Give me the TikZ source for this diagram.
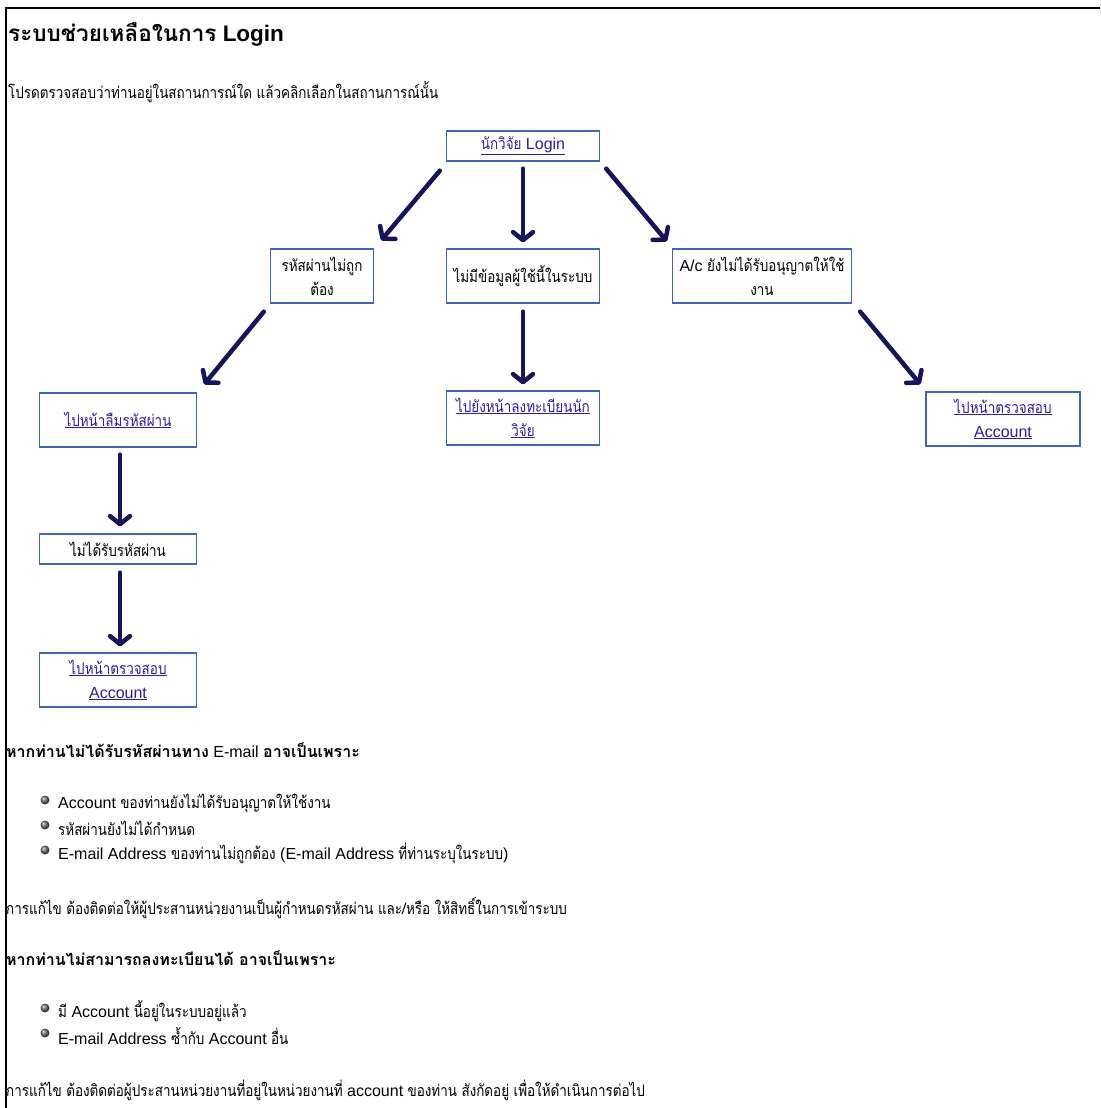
\documentclass[tikz,border=0pt]{standalone}
\usepackage{fontspec}
\setmainfont{Liberation Sans}
\newfontfamily\thai[Script=Thai,FakeStretch=0.84,BoldFeatures={FakeStretch=1.0}]{Loma}
\usetikzlibrary{arrows.meta}
\definecolor{boxblue}{RGB}{70,100,180}
\definecolor{linkblue}{RGB}{45,30,160}
\definecolor{arrownavy}{RGB}{22,20,90}
\newcommand{\lnk}[1]{\underline{#1}}

\begin{document}
\begin{tikzpicture}[x=1pt,y=-1pt,
  box/.style={draw=boxblue, line width=1.3pt, align=center, inner sep=1pt,
    minimum height=30pt, font=\fontsize{16}{24}\selectfont},
  tall/.style={minimum height=54pt},
  link/.style={text=linkblue},
  flow/.style={draw=arrownavy, line width=4.5pt, line cap=round,
    -{Straight Barb[length=8pt,width=20pt,round]}},
  txt/.style={anchor=west, inner sep=0pt, font=\fontsize{16}{20}\selectfont}]
\useasboundingbox (0,0) rectangle (1100,1108);

% page frame
\draw[line width=2pt] (1100,8) -- (6,8) -- (6,1108);

% heading
\node[txt, font=\fontsize{22.5}{28}\selectfont\bfseries] (title) at (8,34) {{\thai ระบบช่วยเหลือในการ} Login};
\node[txt] (intro) at (8,92) {\thai โปรดตรวจสอบว่าท่านอยู่ในสถานการณ์ใด แล้วคลิกเลือกในสถานการณ์นั้น};

% flow boxes
\node[box, link, minimum width=153pt] (login) at (523,146) {\lnk{{\thai นักวิจัย} Login}};
\node[box, tall, minimum width=103pt] (wrong) at (322,276) {\thai รหัสผ่านไม่ถูก\\\thai ต้อง};
\node[box, tall, minimum width=153pt] (nodata) at (523,276) {\thai ไม่มีข้อมูลผู้ใช้นี้ในระบบ};
\node[box, tall, minimum width=179pt] (notallow) at (762,276) {A/c {\thai ยังไม่ได้รับอนุญาตให้ใช้}\\\thai งาน};
\node[box, tall, link, minimum width=157pt] (forgot) at (118,420) {\lnk{\thai ไปหน้าลืมรหัสผ่าน}};
\node[box, tall, link, minimum width=153pt] (register) at (523,418) {\lnk{\thai ไปยังหน้าลงทะเบียนนัก}\\\lnk{\thai วิจัย}};
\node[box, tall, link, minimum width=154pt] (check) at (1003,419) {\lnk{\thai ไปหน้าตรวจสอบ}\\\lnk{Account}};
\node[box, minimum width=157pt] (noreceive) at (118,549) {\thai ไม่ได้รับรหัสผ่าน};
\node[box, tall, link, minimum width=157pt] (checkb) at (118,680) {\lnk{\thai ไปหน้าตรวจสอบ}\\\lnk{Account}};

% arrows
\draw[flow] ([xshift=-6pt,yshift=-9pt]login.south west) -- ([xshift=7pt,yshift=8pt]wrong.north east);
\draw[flow] ([yshift=-7pt]login.south) -- ([yshift=6pt]nodata.north);
\draw[flow] ([xshift=6pt,yshift=-7pt]login.south east) -- ([xshift=-5pt,yshift=7pt]notallow.north west);
\draw[flow] ([xshift=-6pt,yshift=-8pt]wrong.south west) -- ([xshift=7pt,yshift=8pt]forgot.north east);
\draw[flow] ([yshift=-8pt]nodata.south) -- ([yshift=6pt]register.north);
\draw[flow] ([xshift=8pt,yshift=-8pt]notallow.south east) -- ([xshift=-5pt,yshift=7pt]check.north west);
\draw[flow] ([xshift=2pt,yshift=-7pt]forgot.south) -- ([xshift=2pt,yshift=7pt]noreceive.north);
\draw[flow] ([xshift=2pt,yshift=-8pt]noreceive.south) -- ([xshift=2pt,yshift=6pt]checkb.north);

% notes: e-mail
\node[txt] (headmail) at (6,750) {{\thai\bfseries หากท่านไม่ได้รับรหัสผ่านทาง} E-mail {\thai\bfseries อาจเป็นเพราะ}};
\node[txt] (bulla) at (58,803) {Account {\thai ของท่านยังไม่ได้รับอนุญาตให้ใช้งาน}};
\node[txt] (bullb) at (58,828) {\thai รหัสผ่านยังไม่ได้กำหนด};
\node[txt] (bullc) at (58,853) {E-mail Address {\thai ของท่านไม่ถูกต้อง} (E-mail Address {\thai ที่ท่านระบุในระบบ})};
\node[txt] (fixmail) at (6,908) {\thai การแก้ไข ต้องติดต่อให้ผู้ประสานหน่วยงานเป็นผู้กำหนดรหัสผ่าน และ/หรือ ให้สิทธิ์ในการเข้าระบบ};

% notes: register
\node[txt] (headreg) at (6,958) {\thai\bfseries หากท่านไม่สามารถลงทะเบียนได้ อาจเป็นเพราะ};
\node[txt] (bulld) at (58,1011) {{\thai มี} Account {\thai นี้อยู่ในระบบอยู่แล้ว}};
\node[txt] (bulle) at (58,1036) {E-mail Address {\thai ซ้ำกับ} Account {\thai อื่น}};
\node[txt] (fixreg) at (6,1090) {{\thai การแก้ไข ต้องติดต่อผู้ประสานหน่วยงานที่อยู่ในหน่วยงานที่} account {\thai ของท่าน สังกัดอยู่ เพื่อให้ดำเนินการต่อไป}};

% bullets
\foreach \y in {800,825,850,1008,1033}
  \shade[ball color=gray!85!black] (45,\y) circle (4.5pt);
\end{tikzpicture}
\end{document}
